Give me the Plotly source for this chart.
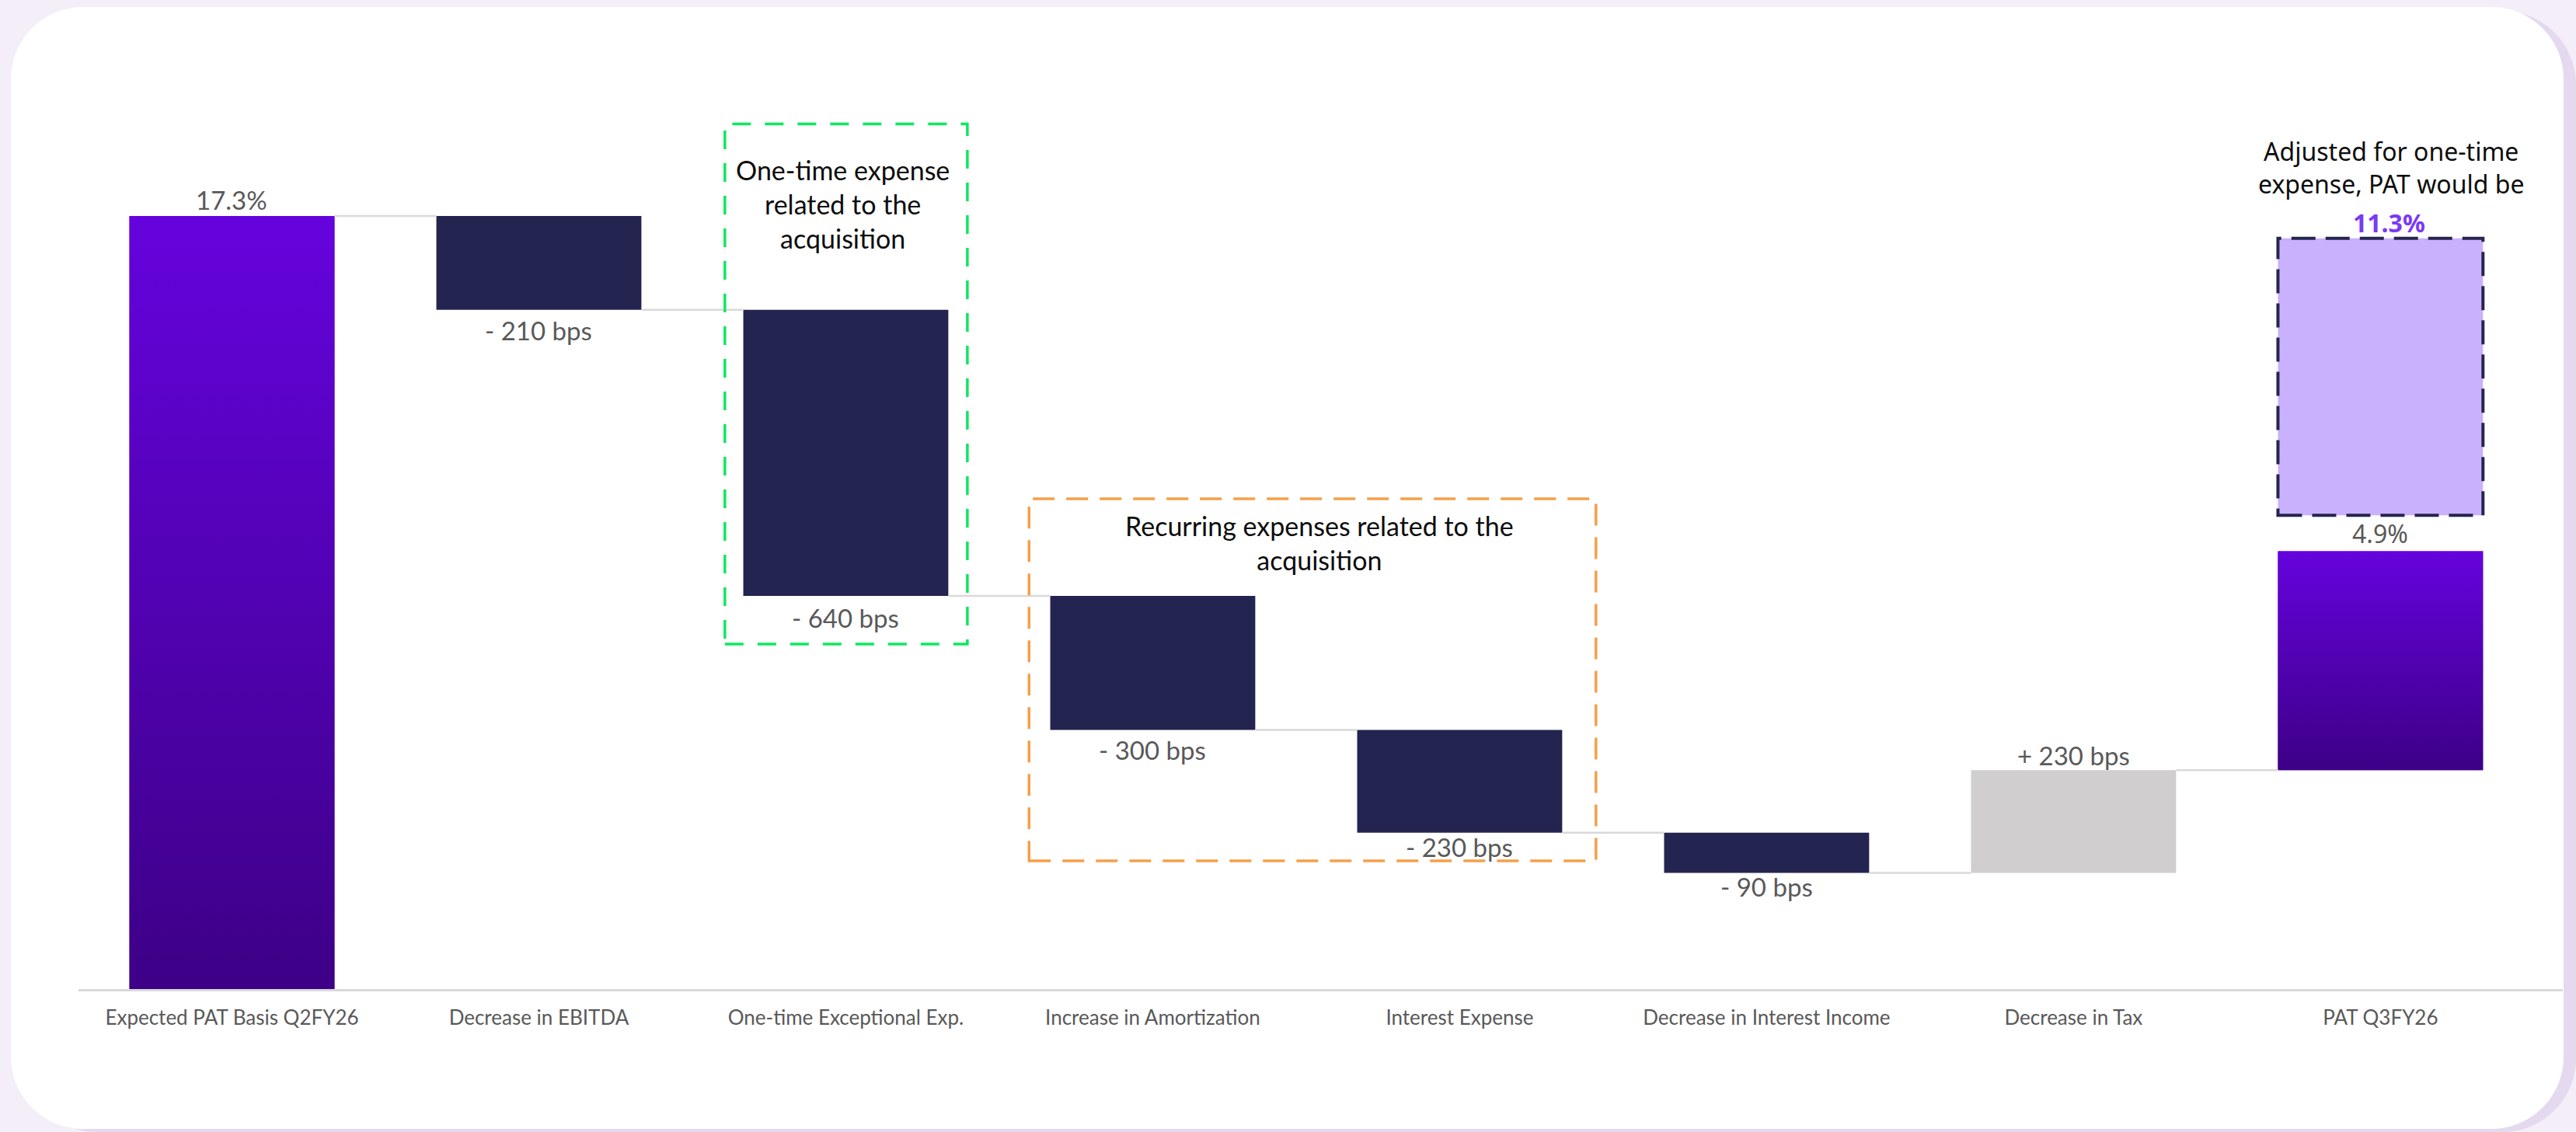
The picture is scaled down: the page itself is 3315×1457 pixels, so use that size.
import plotly.graph_objects as go

# ---------------- data ----------------
categories = [
    "Expected PAT Basis Q2FY26",
    "Decrease in EBITDA",
    "One-time Exceptional Exp.",
    "Increase in Amortization",
    "Interest Expense",
    "Decrease in Interest Income",
    "Decrease in Tax",
    "PAT Q3FY26",
]
values = [17.3, -2.1, -6.4, -3.0, -2.3, -0.9, 2.3, 4.9]
kinds = ["total", "delta", "delta", "delta", "delta", "delta", "delta", "total"]
value_labels = ["17.3%", "- 210 bps", "- 640 bps", "- 300 bps", "- 230 bps",
                "- 90 bps", "+ 230 bps", "4.9%"]

one_time_expense = 6.4
adjusted_label = "11.3%"
adj_base = 10.6      # floating dashed box base
adj_height = 6.2     # floating dashed box height

# ---------------- styling ----------------
W = 0.668
NAVY = "#242450"
GRAY_BAR = "#d0cece"
GRAD_TOP = "#6503dd"
GRAD_BOT = "#3d0086"
LABEL_GRAY = "#595959"
CONN = "#d9d9d9"
FONT = "Lato"
PAGE_BG = "#f3eef8"

idx = list(range(len(categories)))

# waterfall geometry
bases, heights, colors, levels = [], [], [], []
level = 0.0
for i, (v, k) in enumerate(zip(values, kinds)):
    if k == "total":
        b = 0.0 if i == 0 else level
        bases.append(b)
        heights.append(v)
        colors.append("#5200b8")
        if i == 0:
            level = b + v
    else:
        new = level + v
        bases.append(min(level, new))
        heights.append(abs(v))
        colors.append(NAVY if v < 0 else GRAY_BAR)
        level = new
    levels.append(level)

fig = go.Figure()

fig.add_trace(go.Bar(
    x=idx, y=heights, base=bases, width=W,
    marker=dict(color=colors, line=dict(width=0)),
    hoverinfo="skip",
))

# gradient overlays for total bars
for i, k in enumerate(kinds):
    if k != "total":
        continue
    x0, x1 = i - W / 2, i + W / 2
    y0, y1 = bases[i], bases[i] + heights[i]
    fig.add_trace(go.Scatter(
        x=[x0, x1, x1, x0, x0], y=[y0, y0, y1, y1, y0],
        mode="lines", fill="toself", line=dict(width=0),
        fillgradient=dict(type="vertical",
                          colorscale=[[0, GRAD_BOT], [1, GRAD_TOP]]),
        hoverinfo="skip",
    ))

# adjusted PAT floating box
fig.add_trace(go.Bar(
    x=[idx[-1]], y=[adj_height], base=[adj_base], width=W,
    marker=dict(color="#c9b1fd", line=dict(width=0)),
    hoverinfo="skip",
))

# connectors
cx, cy = [], []
for i in range(len(categories) - 1):
    lv = levels[i]
    cx += [i + W / 2, i + 1 - W / 2, None]
    cy += [lv, lv, None]
fig.add_trace(go.Scatter(x=cx, y=cy, mode="lines",
                         line=dict(color=CONN, width=2.5), hoverinfo="skip"))

# ---------------- annotations ----------------
ann = []
shifts = [21, -26, -28, -26, -18, -18, 19, 23]
for i, (lab, k, v) in enumerate(zip(value_labels, kinds, values)):
    if k == "total":
        yv = bases[i] + heights[i]
    elif v < 0:
        yv = bases[i]
    else:
        yv = bases[i] + heights[i]
    fnt = dict(family=FONT, size=33, color=LABEL_GRAY)
    if i == len(categories) - 1:
        fnt = dict(family="Noto Sans", size=32, color=LABEL_GRAY)
    ann.append(dict(x=i, y=yv, text=lab, showarrow=False, xref="x", yref="y",
                    yanchor="middle", xanchor="center", yshift=shifts[i], font=fnt))

ann.append(dict(x=1.99, y=17.57, xref="x", yref="y", showarrow=False,
                text="One-time expense<br>related to the<br>acquisition",
                font=dict(family=FONT, size=34, color="#0d0d0d"), align="center"))
ann.append(dict(x=3.543, y=9.99, xref="x", yref="y", showarrow=False,
                text="Recurring expenses related to the<br>acquisition",
                font=dict(family=FONT, size=34, color="#0d0d0d"), align="center"))
ann.append(dict(x=7.034, y=18.38, xref="x", yref="y", showarrow=False,
                text="Adjusted for one-time<br>expense, PAT would be",
                font=dict(family="Noto Sans", size=32, color="#0d0d0d"), align="center"))
ann.append(dict(x=7.027, y=17.15, xref="x", yref="y", showarrow=False,
                text="<b>" + adjusted_label + "</b>",
                font=dict(family="Noto Sans", size=32, color="#7a3af5")))

# ---------------- card background shapes ----------------
PL, PR, PT, PB = 101, 3298, 140, 1273
def px(x):
    return (x - PL) / (PR - PL)
def py(y):
    return (PB - y) / (PB - PT)

def rounded(L, T, R, B, r):
    k = 0.5523 * r
    pts = [
        f"M {px(L + r)},{py(T)}",
        f"L {px(R - r)},{py(T)}",
        f"C {px(R - r + k)},{py(T)} {px(R)},{py(T + r - k)} {px(R)},{py(T + r)}",
        f"L {px(R)},{py(B - r)}",
        f"C {px(R)},{py(B - r + k)} {px(R - r + k)},{py(B)} {px(R - r)},{py(B)}",
        f"L {px(L + r)},{py(B)}",
        f"C {px(L + r - k)},{py(B)} {px(L)},{py(B - r + k)} {px(L)},{py(B - r)}",
        f"L {px(L)},{py(T + r)}",
        f"C {px(L)},{py(T + r - k)} {px(L + r - k)},{py(T)} {px(L + r)},{py(T)}",
        "Z",
    ]
    return " ".join(pts)

shapes = [
    dict(type="path", xref="paper", yref="paper", layer="below",
         path=rounded(30, 14, 3315, 1457, 95),
         fillcolor="#e4d9ef", line=dict(width=0)),
    dict(type="path", xref="paper", yref="paper", layer="below",
         path=rounded(14, 9, 3299, 1453, 93),
         fillcolor="#ffffff", line=dict(width=0)),
    # one-time (green) box
    dict(type="rect", xref="x", yref="y", x0=1.606, x1=2.396, y0=7.72, y1=19.36,
         line=dict(color="#0de85f", width=3.5, dash="24px,18px"), fillcolor="rgba(0,0,0,0)"),
    # recurring (orange) box
    dict(type="rect", xref="x", yref="y", x0=2.597, x1=4.444, y0=2.87, y1=10.97,
         line=dict(color="#f4a04a", width=3.5, dash="28px,15px"), fillcolor="rgba(0,0,0,0)"),
    # adjusted dashed outline
    dict(type="rect", xref="x", yref="y",
         x0=idx[-1] - W / 2, x1=idx[-1] + W / 2,
         y0=adj_base, y1=adj_base + adj_height,
         line=dict(color="#25254f", width=4, dash="31px,13px"), fillcolor="rgba(0,0,0,0)"),
]

fig.update_layout(
    width=3315, height=1457,
    margin=dict(l=PL, r=3315 - PR, t=PT, b=1457 - PB),
    paper_bgcolor=PAGE_BG,
    plot_bgcolor="rgba(0,0,0,0)",
    showlegend=False,
    barmode="overlay",
    annotations=ann,
    shapes=shapes,
    xaxis=dict(
        range=[-0.5, 7.594], tickmode="array", tickvals=idx, ticktext=categories,
        showline=True, linecolor=CONN, linewidth=3, showgrid=False, zeroline=False,
        ticks="", tickfont=dict(family=FONT, size=26, color=LABEL_GRAY),
        ticklabelstandoff=12, fixedrange=True,
    ),
    yaxis=dict(range=[0, 19.7], visible=False, fixedrange=True),
)

fig.write_html(
    "out.html",
    config={"displayModeBar": False},
    post_script="document.body.style.margin='0';document.body.style.background='%s';" % PAGE_BG,
)
